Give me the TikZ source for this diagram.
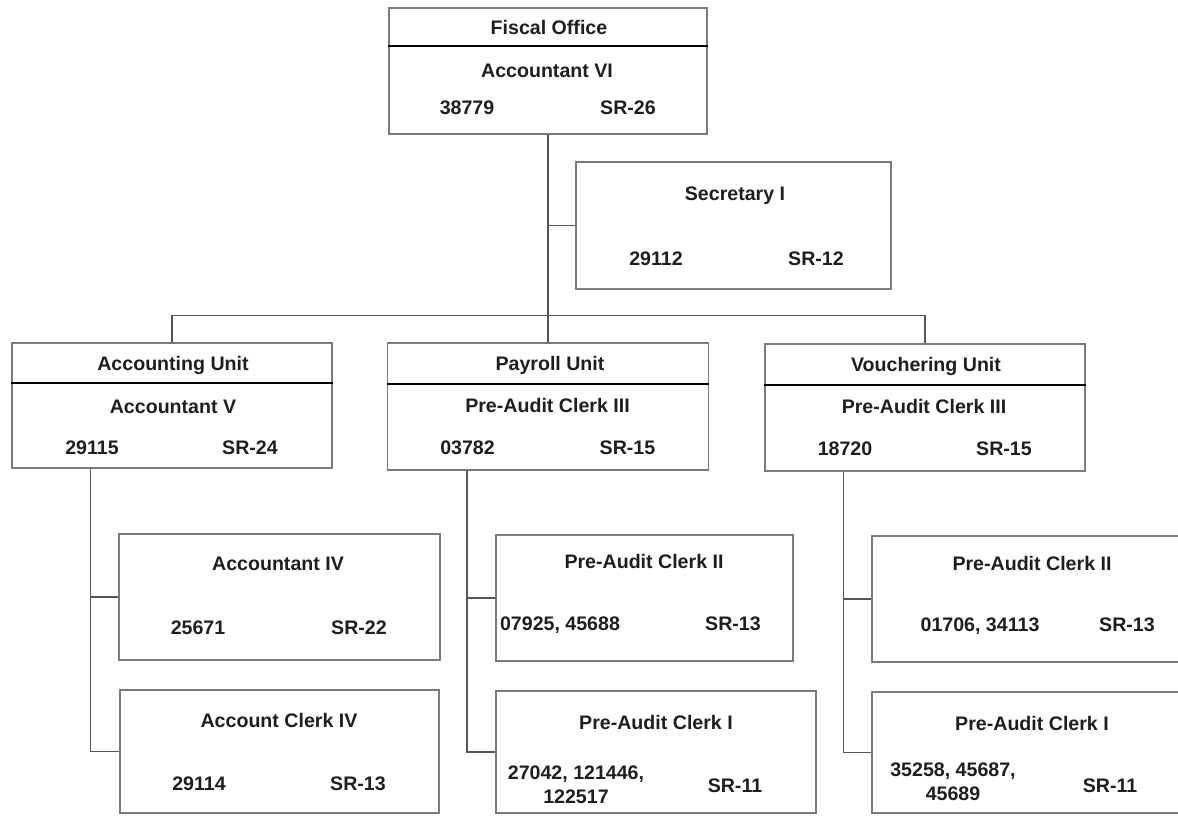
\documentclass[tikz,border=0pt]{standalone}
\usepackage{fontspec}
\setmainfont{Liberation Sans}
\usepackage{xcolor}
\usetikzlibrary{calc, positioning}
\definecolor{BoxLine}{HTML}{7A7A7A}
\definecolor{LinkLine}{HTML}{555555}
\definecolor{TextDark}{HTML}{1E1E1E}

\begin{document}
\begin{tikzpicture}[x=1pt, y=-1pt,
    post/.style={draw=BoxLine, line width=1.3pt, inner sep=0pt},
    link/.style={draw=LinkLine, line width=1.3pt},
    divider/.style={draw=black, line width=2pt},
    txt/.style={font=\fontsize{19.6}{24}\selectfont\bfseries, text=TextDark,
      inner sep=0pt, text height=14pt, text depth=0pt},
    txttwo/.style={font=\fontsize{19.6}{24}\selectfont\bfseries, text=TextDark,
      inner sep=0pt, align=center}
  ]
    \useasboundingbox (0,0) rectangle (1178,815);
    \clip (0,0) rectangle (1178,815);

    % Fiscal Office
    \node[post, minimum width=318pt, minimum height=126pt] (fiscal) at (548,71) {};
    \draw[divider] ($(fiscal.north west)+(0,39)$) -- ($(fiscal.north east)+(0,39)$);
    \node[txt] (fiscalhead) at (549,27) {Fiscal Office};
    \node[txt] (fiscaltitle) at (547,70) {Accountant VI};
    \node[txt] (fiscalid) at (467,107) {38779};
    \node[txt] (fiscalsr) at (628,107) {SR-26};

    % Secretary
    \node[post, minimum width=315pt, minimum height=127pt] (secretary) at (733.5,225.5) {};
    \node[txt] (secrtitle) at (735,193) {Secretary I};
    \node[txt] (secrid) at (656,258) {29112};
    \node[txt] (secrsr) at (816,258) {SR-12};

    % Accounting Unit
    \node[post, minimum width=320pt, minimum height=125pt] (accounting) at (172,405.5) {};
    \draw[divider] ($(accounting.north west)+(0,41)$) -- ($(accounting.north east)+(0,41)$);
    \node[txt] (acchead) at (173,363) {Accounting Unit};
    \node[txt] (acctitle) at (173,406) {Accountant V};
    \node[txt] (accid) at (92,447) {29115};
    \node[txt] (accsr) at (250,447) {SR-24};

    % Payroll Unit
    \node[post, minimum width=321pt, minimum height=127pt] (payroll) at (548,406.5) {};
    \draw[divider] ($(payroll.north west)+(0,42)$) -- ($(payroll.north east)+(0,42)$);
    \node[txt] (payhead) at (550,363) {Payroll Unit};
    \node[txt] (paytitle) at (547.5,405) {Pre-Audit Clerk III};
    \node[txt] (payid) at (467.5,447) {03782};
    \node[txt] (paysr) at (627.5,447) {SR-15};

    % Vouchering Unit
    \node[post, minimum width=320pt, minimum height=127pt] (vouchering) at (925,407.5) {};
    \draw[divider] ($(vouchering.north west)+(0,42)$) -- ($(vouchering.north east)+(0,42)$);
    \node[txt] (vouhead) at (926,364) {Vouchering Unit};
    \node[txt] (voutitle) at (924,406) {Pre-Audit Clerk III};
    \node[txt] (vouid) at (845,448) {18720};
    \node[txt] (vousr) at (1004,448) {SR-15};

    % Accounting staff
    \node[post, minimum width=321pt, minimum height=126pt] (acctfour) at (279.5,597) {};
    \node[txt] (acctfourtitle) at (278,563) {Accountant IV};
    \node[txt] (acctfourid) at (198,627) {25671};
    \node[txt] (acctfoursr) at (359,627) {SR-22};

    \node[post, minimum width=319pt, minimum height=123pt] (clerkfour) at (279.5,751.5) {};
    \node[txt] (clerkfourtitle) at (279,720) {Account Clerk IV};
    \node[txt] (clerkfourid) at (199,783) {29114};
    \node[txt] (clerkfoursr) at (358,783) {SR-13};

    % Payroll staff
    \node[post, minimum width=297pt, minimum height=126pt] (paytwo) at (644.5,598) {};
    \node[txt] (paytwotitle) at (644,561) {Pre-Audit Clerk II};
    \node[txt] (paytwoid) at (560,623) {07925, 45688};
    \node[txt] (paytwosr) at (733,623) {SR-13};

    \node[post, minimum width=320pt, minimum height=122pt] (payone) at (656,752) {};
    \node[txt] (payonetitle) at (656,722) {Pre-Audit Clerk I};
    \node[txttwo] (payoneid) at (576,785) {27042, 121446,\\122517};
    \node[txt] (payonesr) at (735,785) {SR-11};

    % Vouchering staff
    \node[post, minimum width=320pt, minimum height=126pt] (voutwo) at (1032,599) {};
    \node[txt] (voutwotitle) at (1032,563) {Pre-Audit Clerk II};
    \node[txt] (voutwoid) at (980,624) {01706, 34113};
    \node[txt] (voutwosr) at (1127,624) {SR-13};

    \node[post, minimum width=320pt, minimum height=121pt] (vouone) at (1032,752.5) {};
    \node[txt] (vouonetitle) at (1032,723) {Pre-Audit Clerk I};
    \node[txttwo] (vouoneid) at (953,782) {35258, 45687,\\45689};
    \node[txt] (vouonesr) at (1110,785) {SR-11};

    % Connectors
    \draw[link] (fiscal.south) -- (payroll.north);
    \draw[link] (secretary.west) -- (secretary.west -| fiscal.south);
    \draw[link] (accounting.north) -- ++(0,-27) -| (vouchering.north);

    \coordinate (accstem) at ($(accounting.south west)+(79,0)$);
    \coordinate (paystem) at ($(payroll.south west)+(80,0)$);
    \coordinate (voustem) at ($(vouchering.south west)+(79,0)$);
    \draw[link] (accstem) |- (clerkfour.west);
    \draw[link] (acctfour.west) -- (acctfour.west -| accstem);
    \draw[link] (paystem) |- (payone.west);
    \draw[link] (paytwo.west) -- (paytwo.west -| paystem);
    \draw[link] (voustem) |- (vouone.west);
    \draw[link] (voutwo.west) -- (voutwo.west -| voustem);
  \end{tikzpicture}
\end{document}
